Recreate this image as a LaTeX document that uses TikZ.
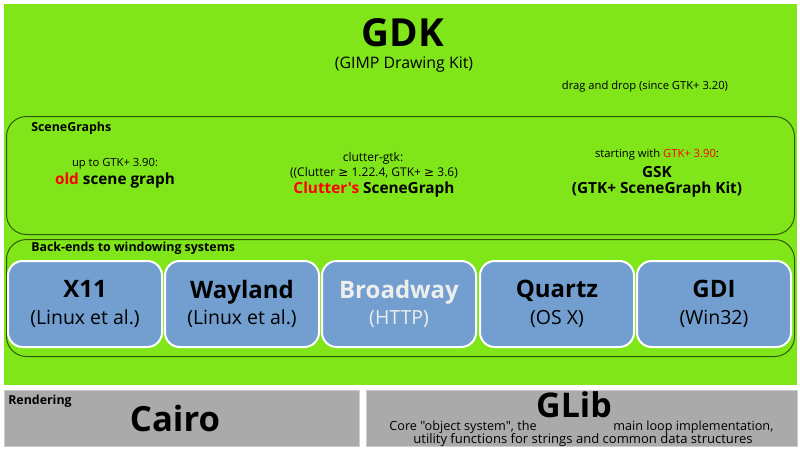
\documentclass[tikz,border=0pt]{standalone}
\usepackage{fontspec}
\setmainfont{Open Sans}[Ligatures=TeXOff]
\newfontfamily\symfont{DejaVu Sans}
\usetikzlibrary{positioning}
\definecolor{gdkgreen}{RGB}{128,230,26}
\definecolor{boxline}{RGB}{45,90,10}
\definecolor{backblue}{RGB}{114,159,207}
\definecolor{libgray}{RGB}{170,170,170}
\definecolor{dimtext}{RGB}{238,238,236}
\newcommand{\atleast}{{\symfont ≥}}
\tikzset{
  panel/.style={
    fill=gdkgreen, draw=none, anchor=north west, inner sep=0pt
  },
  grp/.style={
    draw=boxline, line width=0.75pt, rounded corners=15pt,
    anchor=north west, minimum width=591pt, inner sep=0pt
  },
  backend/.style={
    draw=white, line width=1.5pt, fill=backblue, rounded corners=11pt,
    minimum width=115.5pt, minimum height=64.5pt,
    font=\fontsize{14.6}{20}\selectfont, align=center, inner sep=0pt
  },
  lib/.style={
    fill=libgray, draw=gray!40, line width=0.75pt,
    anchor=north west, minimum height=42pt, inner sep=0pt
  },
  grptitle/.style={font=\fontsize{9.3}{11}\selectfont\bfseries, anchor=west, inner sep=0pt},
  note/.style={font=\fontsize{8.4}{10}\selectfont, inner sep=0pt},
  emph/.style={font=\fontsize{11.5}{14}\selectfont\bfseries, inner sep=0pt},
}

\begin{document}
\begin{tikzpicture}[x=0.75pt, y=-0.75pt]
        \useasboundingbox (0,0) rectangle (800,450);
        % GDK layer
        \node[panel, minimum width=594.75pt, minimum height=285.75pt] (gdkpanel) at (4,4) {};
        \node[font=\fontsize{29}{34}\selectfont\bfseries, inner sep=0pt] (gdktitle) at (403,33) {GDK};
        \node[font=\fontsize{11.9}{14}\selectfont, inner sep=0pt] (gdksub) at (404,65) {(GIMP Drawing Kit)};
        \node[note] (dnd) at (645,87) {drag and drop (since GTK+ 3.20)};
        % scene graphs
        \node[grp, minimum height=88.5pt] (scenegraphs) at (6,116) {};
        \node[grptitle] (sglabel) at (31,128) {SceneGraphs};
        \node[note] (oldver) at (115,164) {up to GTK+ 3.90:};
        \node[emph] (oldsg) at (115,181) {\textcolor{red}{old} scene graph};
        \node[note, font=\fontsize{9}{11}\selectfont] (cluttergtk) at (373,158) {clutter-gtk:};
        \node[note, font=\fontsize{9}{11}\selectfont] (cluttervers) at (374,173) {((Clutter \atleast{} 1.22.4, GTK+ \atleast{} 3.6)};
        \node[emph] (cluttersg) at (374,190) {\textcolor{red}{Clutter's} SceneGraph};
        \node[note] (gskver) at (657,155) {starting with \textcolor{red}{GTK+ 3.90}:};
        \node[emph] (gsk) at (657,172) {GSK};
        \node[emph] (gskfull) at (657,190) {(GTK+ SceneGraph Kit)};
        % back-ends
        \node[grp, minimum height=87.75pt] (backends) at (6,239) {};
        \node[grptitle] (belabel) at (31,248) {Back-ends to windowing systems};
        \foreach \bname/\cx/\title/\sub/\tcol in
          {x11/85/X11/(Linux et al.)/black, wayland/242/Wayland/(Linux et al.)/black,
           broadway/399/Broadway/(HTTP)/dimtext, quartz/557/Quartz/(OS X)/black,
           gdi/714/GDI/(Win32)/black}{
          \node[backend, text=\tcol] (\bname) at (\cx,304)
            {{\fontsize{18}{20}\selectfont\bfseries \title}\\\sub};
        }
        % libraries below
        \node[lib, minimum width=266.25pt] (rendering) at (4,390) {};
        \node[grptitle] (renderlabel) at (8,401) {Rendering};
        \node[font=\fontsize{26}{30}\selectfont\bfseries, inner sep=0pt] (cairo) at (175,418) {Cairo};
        \node[lib, minimum width=323.25pt] (glib) at (366,390) {};
        \node[font=\fontsize{25.5}{30}\selectfont\bfseries, inner sep=0pt] (glibtitle) at (574,405) {GLib};
        \node[note, font=\fontsize{9.5}{11}\selectfont, anchor=east] (glibdesc1) at (537,427) {Core "object system", the};
        \node[note, font=\fontsize{9.5}{11}\selectfont, anchor=west] (glibdesc2) at (613,427) {main loop implementation,};
        \node[note, font=\fontsize{9.8}{11}\selectfont] (glibdesc3) at (583,440) {utility functions for strings and common data structures};
      \end{tikzpicture}
\end{document}
